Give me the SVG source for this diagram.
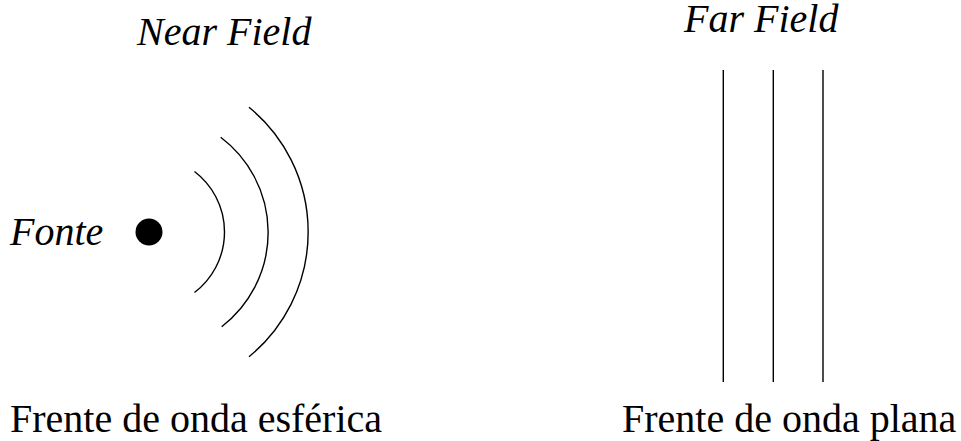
<svg xmlns="http://www.w3.org/2000/svg" width="961" height="441" viewBox="0 0 961 441">
<style>
.t{font-family:'Liberation Serif','Times New Roman',Times,'DejaVu Serif',serif;font-size:40px;fill:#000}
.i{font-style:italic}
.w{fill:none;stroke:#000;stroke-width:1.4}
</style>
<rect width="961" height="441" fill="#fff"/>
<g id="near-title"><text class="t i" x="137" y="45">Near Field</text></g>
<g id="far-title"><text class="t i" x="684" y="32">Far Field</text></g>
<g id="source">
<text class="t i" x="10" y="245">Fonte</text>
<circle cx="149" cy="232" r="13.5" fill="#000"/>
</g>
<g id="spherical-waves">
<path class="w" d="M194.5,171.5 A76,76 0 0 1 194.5,292.5"/>
<path class="w" d="M220.7,137.3 A119,119 0 0 1 221.7,326.7"/>
<path class="w" d="M249,107.3 A161,161 0 0 1 249,356.7"/>
</g>
<g id="plane-waves">
<line class="w" x1="723.3" y1="70" x2="723.3" y2="382"/>
<line class="w" x1="773.3" y1="70" x2="773.3" y2="382"/>
<line class="w" x1="823" y1="70" x2="823" y2="382"/>
</g>
<g id="labels">
<text class="t" x="10" y="432">Frente de onda esférica</text>
<text class="t" x="622" y="432">Frente de onda plana</text>
</g>
</svg>
